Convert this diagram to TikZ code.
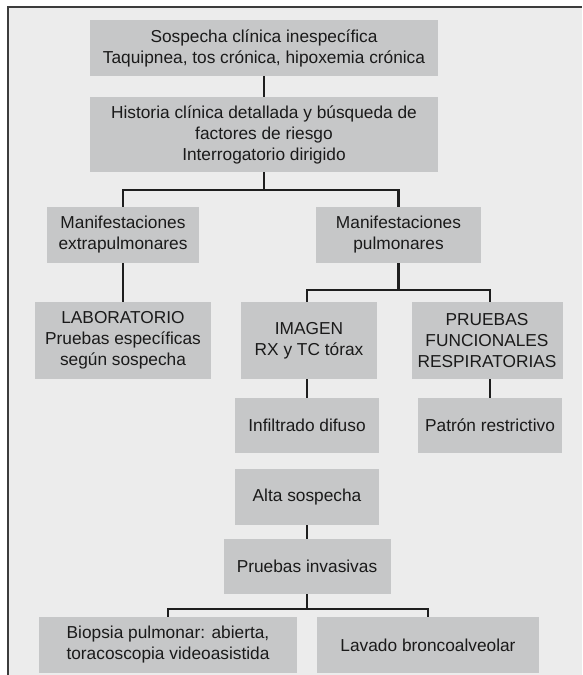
\documentclass[tikz,border=0pt]{standalone}
\usepackage{fontspec}
\setmainfont{Liberation Sans}
\definecolor{bg}{HTML}{ECECEC}
\definecolor{boxgray}{HTML}{C6C7C8}
\definecolor{linec}{HTML}{1E1E1E}
\definecolor{textc}{HTML}{1A1A1A}
\definecolor{framec}{HTML}{3C3C3C}
\begin{document}
\begin{tikzpicture}[x=1pt,y=-1pt,
  box/.style={fill=boxgray, inner sep=0pt, align=center, text=textc,
    font=\fontsize{17.3}{21}\selectfont},
  conn/.style={line width=2.4pt, draw=linec, line join=miter}]
\useasboundingbox (0,0) rectangle (582,675);
\fill[white] (0,0) rectangle (582,675);
\fill[bg] (8,7) rectangle (582,675);
\draw[framec, line width=2pt] (8,675) -- (8,7) -- (582,7);

\node[box, minimum width=348pt, minimum height=56pt] (b1) at (264,48)
  {Sospecha clínica inespecífica\\Taquipnea, tos crónica, hipoxemia crónica};
\node[box, minimum width=348pt, minimum height=75pt] (b2) at (264,134.5)
  {Historia clínica detallada y búsqueda de\\factores de riesgo\\Interrogatorio dirigido};
\node[box, minimum width=152pt, minimum height=56pt] (extra) at (123,235)
  {Manifestaciones\\extrapulmonares};
\node[box, minimum width=165pt, minimum height=56pt] (pulm) at (398.5,235)
  {Manifestaciones\\pulmonares};
\node[box, minimum width=176pt, minimum height=77pt] (lab) at (123,340.5)
  {LABORATORIO\\Pruebas específicas\\según sospecha};
\node[box, minimum width=136pt, minimum height=77pt] (imagen) at (309,340.5)
  {IMAGEN\\RX y TC tórax};
\node[box, minimum width=151pt, minimum height=77pt] (pruebas) at (487,340.5)
  {PRUEBAS\\FUNCIONALES\\RESPIRATORIAS};
\node[box, minimum width=144pt, minimum height=55pt] (infil) at (307,425.5)
  {Infiltrado difuso};
\node[box, minimum width=144pt, minimum height=55pt] (patron) at (490,425.5)
  {Patrón restrictivo};
\node[box, minimum width=144pt, minimum height=56pt] (alta) at (307,497)
  {Alta sospecha};
\node[box, minimum width=167pt, minimum height=55pt] (inv) at (307,566.5)
  {Pruebas invasivas};
\node[box, minimum width=258pt, minimum height=56pt] (bio) at (168,645)
  {Biopsia pulmonar: abierta,\\toracoscopia videoasistida};
\node[box, minimum width=222pt, minimum height=56pt] (lav) at (428,645)
  {Lavado broncoalveolar};

\draw[conn] (b1) -- (b2);
\draw[conn] (b2.south) -- ++(0,18) -| (extra.north);
\draw[conn] (b2.south) -- ++(0,18) -| (pulm.north);
\draw[conn] (extra) -- (lab);
\draw[conn] (pulm.south) -- ++(0,27) -| (infil.north |- imagen.north);
\draw[conn] (pulm.south) -- ++(0,27) -| (patron.north |- pruebas.north);
\draw[conn] (infil.north |- imagen.south) -- (infil.north);
\draw[conn] (patron.north |- pruebas.south) -- (patron.north);
\draw[conn] (alta) -- (inv);
\draw[conn] (inv.south) -- ++(0,15) -| (bio.north);
\draw[conn] (inv.south) -- ++(0,15) -| (lav.north);
\end{tikzpicture}
\end{document}
